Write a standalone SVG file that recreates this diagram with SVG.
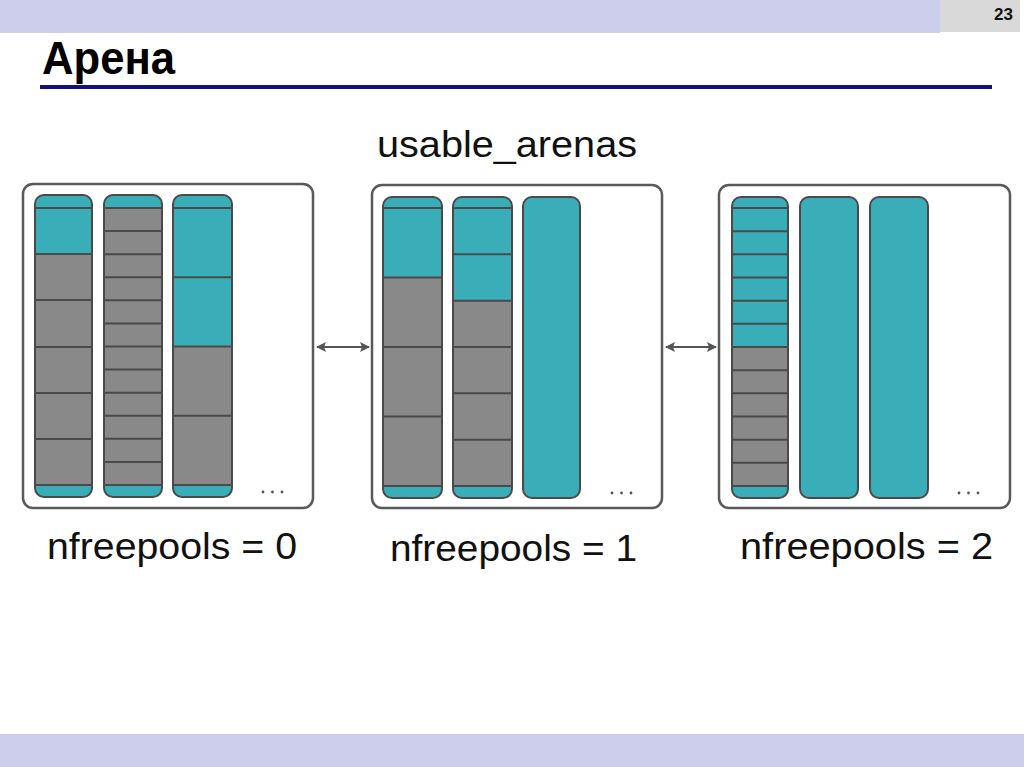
<svg xmlns="http://www.w3.org/2000/svg" width="1024" height="767" viewBox="0 0 1024 767">
<defs>
<style>
.cy{fill:#3AAEB8}
.gr{fill:#898989}
.ol{fill:none;stroke:#4A4A4A;stroke-width:2}
.ln{stroke:#4A4A4A;stroke-width:2}
.box{fill:#fff;stroke:#5A5A5A;stroke-width:2.5}
.dot{fill:#555}
.lbl{font-family:"Liberation Sans",Arial,sans-serif;font-size:37px;fill:#111}
.con{stroke:#555;stroke-width:2;fill:none}
</style>
<marker id="ah" viewBox="0 0 10 10" refX="9" refY="5" markerWidth="5.5" markerHeight="5" orient="auto-start-reverse" markerUnits="strokeWidth">
<path d="M0,0 L10,5 L0,10 L2,5 z" fill="#555"/>
</marker>
</defs>
<rect width="1024" height="767" fill="#fff"/>
<g id="header">
<rect x="0" y="0" width="940" height="33" fill="#CDCEEC"/>
<rect x="940" y="0" width="80" height="32" fill="#D9D9D9"/>
<text x="1013" y="20" text-anchor="end" font-family="Liberation Sans,Arial,sans-serif" font-weight="bold" font-size="17" fill="#111">23</text>
<text x="42" y="74" font-family="Liberation Sans,Arial,sans-serif" font-weight="bold" font-size="46" textLength="133" lengthAdjust="spacingAndGlyphs" fill="#000">Арена</text>
<rect x="40" y="85" width="952" height="4" fill="#12127E"/>
</g>
<rect id="footer" x="0" y="734" width="1024" height="33" fill="#CDCEEC"/>
<text id="usable-label" class="lbl" x="377" y="157" textLength="260" lengthAdjust="spacingAndGlyphs">usable_arenas</text>

<g id="arena1">
<rect class="box" x="23" y="184" width="290" height="324" rx="10"/>
<g id="a1c1">
<rect class="cy" x="35" y="195" width="57" height="302" rx="9"/>
<rect class="gr" x="35" y="254" width="57" height="231"/>
<path class="ln" d="M35,208H92M35,254H92M35,300H92M35,347H92M35,393H92M35,439H92M35,485H92"/>
<rect class="ol" x="35" y="195" width="57" height="302" rx="9"/>
</g>
<g id="a1c2">
<rect class="cy" x="104" y="195" width="58" height="302" rx="9"/>
<rect class="gr" x="104" y="208" width="58" height="277"/>
<path class="ln" d="M104,208H162M104,231.1H162M104,254.2H162M104,277.3H162M104,300.3H162M104,323.4H162M104,346.5H162M104,369.6H162M104,392.7H162M104,415.8H162M104,438.8H162M104,461.9H162M104,485H162"/>
<rect class="ol" x="104" y="195" width="58" height="302" rx="9"/>
</g>
<g id="a1c3">
<rect class="cy" x="173" y="195" width="59" height="302" rx="9"/>
<rect class="gr" x="173" y="346.5" width="59" height="138.5"/>
<path class="ln" d="M173,208H232M173,277.3H232M173,346.5H232M173,415.8H232M173,485H232"/>
<rect class="ol" x="173" y="195" width="59" height="302" rx="9"/>
</g>
<circle class="dot" cx="263" cy="492" r="1.4"/><circle class="dot" cx="272.5" cy="492" r="1.4"/><circle class="dot" cx="282" cy="492" r="1.4"/>
</g>

<g id="arena2">
<rect class="box" x="372" y="185" width="290" height="323" rx="10"/>
<g id="a2c1">
<rect class="cy" x="383" y="197" width="59" height="301" rx="9"/>
<rect class="gr" x="383" y="277.5" width="59" height="208.5"/>
<path class="ln" d="M383,208H442M383,277.5H442M383,347H442M383,416.5H442M383,486H442"/>
<rect class="ol" x="383" y="197" width="59" height="301" rx="9"/>
</g>
<g id="a2c2">
<rect class="cy" x="453" y="197" width="59" height="301" rx="9"/>
<rect class="gr" x="453" y="300.7" width="59" height="185.3"/>
<path class="ln" d="M453,208H512M453,254.3H512M453,300.7H512M453,347H512M453,393.3H512M453,439.7H512M453,486H512"/>
<rect class="ol" x="453" y="197" width="59" height="301" rx="9"/>
</g>
<g id="a2c3">
<rect class="cy" x="523" y="197" width="57" height="301" rx="9"/>
<rect class="ol" x="523" y="197" width="57" height="301" rx="9"/>
</g>
<circle class="dot" cx="612" cy="493" r="1.4"/><circle class="dot" cx="621.5" cy="493" r="1.4"/><circle class="dot" cx="631" cy="493" r="1.4"/>
</g>

<g id="arena3">
<rect class="box" x="719" y="185" width="291" height="323" rx="10"/>
<g id="a3c1">
<rect class="cy" x="732" y="197" width="56" height="301" rx="9"/>
<rect class="gr" x="732" y="347" width="56" height="139"/>
<path class="ln" d="M732,208H788M732,231.2H788M732,254.3H788M732,277.5H788M732,300.7H788M732,323.8H788M732,347H788M732,370.2H788M732,393.3H788M732,416.5H788M732,439.7H788M732,462.8H788M732,486H788"/>
<rect class="ol" x="732" y="197" width="56" height="301" rx="9"/>
</g>
<g id="a3c2">
<rect class="cy" x="800" y="197" width="58" height="301" rx="9"/>
<rect class="ol" x="800" y="197" width="58" height="301" rx="9"/>
</g>
<g id="a3c3">
<rect class="cy" x="870" y="197" width="58" height="301" rx="9"/>
<rect class="ol" x="870" y="197" width="58" height="301" rx="9"/>
</g>
<circle class="dot" cx="959" cy="493" r="1.4"/><circle class="dot" cx="968.5" cy="493" r="1.4"/><circle class="dot" cx="978" cy="493" r="1.4"/>
</g>

<g id="connectors">
<line class="con" x1="317" y1="347" x2="369" y2="347" marker-start="url(#ah)" marker-end="url(#ah)"/>
<line class="con" x1="666" y1="347" x2="716" y2="347" marker-start="url(#ah)" marker-end="url(#ah)"/>
</g>

<text id="label0" class="lbl" x="47" y="559" textLength="250" lengthAdjust="spacingAndGlyphs">nfreepools = 0</text>
<text id="label1" class="lbl" x="390" y="561" textLength="247" lengthAdjust="spacingAndGlyphs">nfreepools = 1</text>
<text id="label2" class="lbl" x="740" y="559" textLength="253" lengthAdjust="spacingAndGlyphs">nfreepools = 2</text>
</svg>
